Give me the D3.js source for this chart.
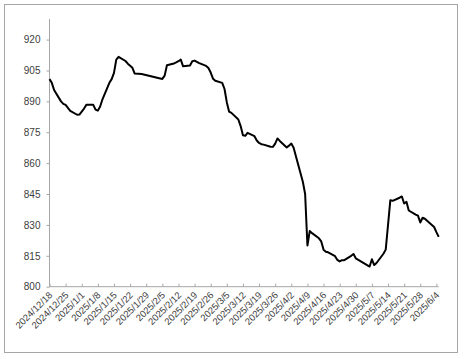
<!DOCTYPE html>
<html><head><meta charset="utf-8">
<script src="https://cdn.jsdelivr.net/npm/d3@7"></script>
<style>
html,body{margin:0;padding:0;background:#fff;}
svg{display:block;}
text{font-family:"Liberation Sans",Arial,sans-serif;}
</style></head>
<body><svg id="c" width="464" height="359"></svg>
<script>
const dates = ["2024/12/18","2024/12/19","2024/12/20","2024/12/23","2024/12/24","2024/12/25","2024/12/26","2024/12/27","2024/12/30","2024/12/31",
"2025/1/2","2025/1/3","2025/1/6","2025/1/7","2025/1/8","2025/1/9","2025/1/10","2025/1/13","2025/1/14","2025/1/15","2025/1/16","2025/1/17",
"2025/1/20","2025/1/21","2025/1/22","2025/1/23","2025/1/24","2025/1/27",
"2025/2/5","2025/2/6","2025/2/7","2025/2/10","2025/2/11","2025/2/12","2025/2/13","2025/2/14","2025/2/17","2025/2/18","2025/2/19","2025/2/20","2025/2/21",
"2025/2/24","2025/2/25","2025/2/26","2025/2/27","2025/2/28",
"2025/3/3","2025/3/4","2025/3/5","2025/3/6","2025/3/7","2025/3/10","2025/3/11","2025/3/12","2025/3/13","2025/3/14",
"2025/3/17","2025/3/18","2025/3/19","2025/3/20","2025/3/21","2025/3/24","2025/3/25","2025/3/26","2025/3/27","2025/3/28",
"2025/3/31","2025/4/1","2025/4/2","2025/4/3","2025/4/7","2025/4/8","2025/4/9","2025/4/10","2025/4/11",
"2025/4/14","2025/4/15","2025/4/16","2025/4/17","2025/4/18","2025/4/21","2025/4/22","2025/4/23","2025/4/24","2025/4/25",
"2025/4/28","2025/4/29","2025/4/30","2025/5/6","2025/5/7","2025/5/8","2025/5/9",
"2025/5/12","2025/5/13","2025/5/14","2025/5/15","2025/5/16","2025/5/19","2025/5/20","2025/5/21","2025/5/22","2025/5/23",
"2025/5/26","2025/5/27","2025/5/28","2025/5/29","2025/5/30","2025/6/3","2025/6/4","2025/6/5"];
const values = [900.8,899,895.5,890,888.8,888.3,886.8,885.4,883.5,883.6,
886.5,888.3,888.3,886,885.5,887.5,891,899,900.8,903.8,910.3,911.6,
909.6,908.3,907.3,906.3,903.5,903.3,
900.9,902.5,907.5,908.4,908.9,909.5,910.3,907,907.4,909.5,909.8,909.2,908.6,
907.2,906.2,904,901,900,
899,896,889.5,885,884.4,881.2,878,873.5,873.3,874.7,
873.1,871,869.8,869.2,869,868,867.9,869.5,872,870.8,
867.6,868.5,869.5,867.5,851,845,820,827,826,
823.5,822,818,817,816.7,814.8,813,812.3,812.9,812.9,
815,815.9,813.8,809.8,813.3,810.5,811.5,
816,818,830,842,841.7,843.2,843.8,840.4,841.2,837,
835,834.5,831.2,833.5,833,829,826.5,824.2];
const xTickLabels = ["2024/12/18","2024/12/25","2025/1/1","2025/1/8","2025/1/15","2025/1/22","2025/1/29","2025/2/5","2025/2/12","2025/2/19","2025/2/26","2025/3/5","2025/3/12","2025/3/19","2025/3/26","2025/4/2","2025/4/9","2025/4/16","2025/4/23","2025/4/30","2025/5/7","2025/5/14","2025/5/21","2025/5/28","2025/6/4"];
const yTicks = [800,815,830,845,860,875,890,905,920];

const parse = d3.timeParse("%Y/%m/%d");
const data = dates.map((d,i)=>({d:parse(d), v:values[i]}));
const svg = d3.select("#c");

svg.append("rect").attr("x",4.5).attr("y",4.5).attr("width",453).attr("height",348)
  .attr("fill","#fff").attr("stroke","#a6a6a6").attr("stroke-width",1);

const x = d3.scaleTime().domain([parse("2024/12/18"), parse("2025/6/5")]).range([49.5, 438.7]);
const y = d3.scaleLinear().domain([800, 930]).range([286.7, 19]);

// y axis
const yAxis = svg.append("g").attr("transform","translate(49.5,0)")
  .call(d3.axisLeft(y).tickValues(yTicks).tickSize(3).tickPadding(6));
yAxis.select(".domain").attr("stroke","#a6a6a6").attr("d","M0,"+y(930)+"V"+y(800));
yAxis.selectAll(".tick line").attr("stroke","#a6a6a6");
yAxis.selectAll("text").attr("fill","#404040").style("font-size","10px");

// x axis
const xAxis = svg.append("g").attr("transform","translate(0,"+y(800)+")")
  .call(d3.axisBottom(x).tickValues(xTickLabels.map(parse)).tickSize(-3).tickFormat(""));
xAxis.select(".domain").attr("stroke","#a6a6a6").attr("d","M49.5,0H438.7");
xAxis.selectAll(".tick line").attr("stroke","#a6a6a6");

svg.append("g").selectAll("text").data(xTickLabels).join("text")
  .attr("transform", d => "translate(" + (x(parse(d))+3.5) + "," + (y(800)+9) + ") rotate(-45)")
  .attr("text-anchor","end")
  .attr("fill","#404040")
  .style("font-size","9.5px")
  .text(d=>d);

// line
svg.append("path").datum(data)
  .attr("fill","none").attr("stroke","#000").attr("stroke-width",2)
  .attr("stroke-linejoin","round")
  .attr("d", d3.line().x(d=>x(d.d)).y(d=>y(d.v)));
</script></body></html>
